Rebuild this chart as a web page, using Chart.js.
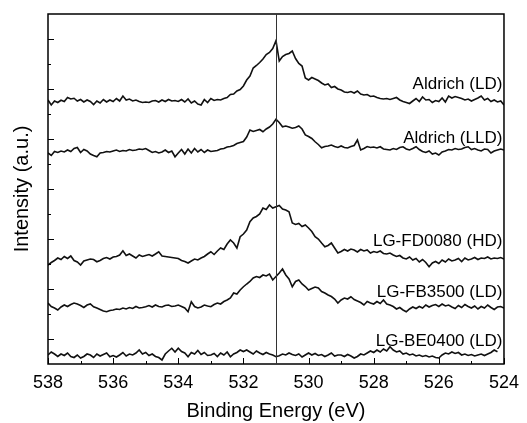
<!DOCTYPE html>
<html>
<head>
<meta charset="utf-8">
<script src="https://cdn.jsdelivr.net/npm/chart.js@4.4.1/dist/chart.umd.min.js"></script>
<style>
  html, body { margin: 0; padding: 0; background: #fff; }
  #wrap { width: 527px; height: 423px; }
</style>
</head>
<body>
<div id="wrap"><canvas id="xpsChart"></canvas></div>
<script>
// Binding energy grid (eV), 538 -> 524
const energies = [
  538.0,537.9,537.8,537.7,537.6,537.5,537.4,537.3,537.2,537.1,
  537.0,536.9,536.8,536.7,536.6,536.5,536.4,536.3,536.2,536.1,
  536.0,535.9,535.8,535.7,535.6,535.5,535.4,535.3,535.2,535.1,
  535.0,534.9,534.8,534.7,534.6,534.5,534.4,534.3,534.2,534.1,
  534.0,533.9,533.8,533.7,533.6,533.5,533.4,533.3,533.2,533.1,
  533.0,532.9,532.8,532.7,532.6,532.5,532.4,532.3,532.2,532.1,
  532.0,531.9,531.8,531.7,531.6,531.5,531.4,531.3,531.2,531.1,
  531.0,530.9,530.8,530.7,530.6,530.5,530.4,530.3,530.2,530.1,
  530.0,529.9,529.8,529.7,529.6,529.5,529.4,529.3,529.2,529.1,
  529.0,528.9,528.8,528.7,528.6,528.5,528.4,528.3,528.2,528.1,
  528.0,527.9,527.8,527.7,527.6,527.5,527.4,527.3,527.2,527.1,
  527.0,526.9,526.8,526.7,526.6,526.5,526.4,526.3,526.2,526.1,
  526.0,525.9,525.8,525.7,525.6,525.5,525.4,525.3,525.2,525.1,
  525.0,524.9,524.8,524.7,524.6,524.5,524.4,524.3,524.2,524.1,
  524.0
];

// Intensities (offset, a.u.)
const aldrichLD = [
  10.56,10.36,10.52,10.46,10.55,10.50,10.66,10.60,10.63,10.52,
  10.58,10.48,10.56,10.50,10.38,10.52,10.44,10.58,10.48,10.56,
  10.50,10.62,10.52,10.72,10.56,10.60,10.52,10.56,10.50,10.46,
  10.48,10.46,10.52,10.54,10.48,10.56,10.50,10.58,10.52,10.54,
  10.50,10.58,10.48,10.60,10.44,10.52,10.40,10.36,10.58,10.46,
  10.62,10.54,10.58,10.56,10.62,10.66,10.78,10.80,10.92,10.98,
  11.12,11.36,11.52,11.84,11.94,12.06,12.20,12.38,12.46,12.62,
  12.93,12.12,12.30,12.38,12.42,12.52,12.22,12.02,11.92,11.44,
  11.36,11.46,11.40,11.34,11.24,11.16,11.20,11.06,11.10,11.00,
  10.96,10.88,10.86,10.90,10.84,10.92,10.80,10.76,10.78,10.70,
  10.72,10.66,10.62,10.60,10.62,10.58,10.62,10.66,10.56,10.50,
  10.46,10.42,10.52,10.62,10.50,10.68,10.56,10.58,10.46,10.54,
  10.50,10.64,10.48,10.72,10.64,10.70,10.66,10.62,10.56,10.60,
  10.52,10.58,10.64,10.72,10.56,10.62,10.50,10.56,10.48,10.52,
  10.36
];
const aldrichLLD = [
  8.44,8.34,8.50,8.46,8.52,8.48,8.56,8.50,8.62,8.66,
  8.46,8.58,8.52,8.40,8.34,8.29,8.44,8.46,8.50,8.48,
  8.52,8.56,8.50,8.54,8.52,8.58,8.54,8.56,8.60,8.58,
  8.62,8.54,8.46,8.50,8.44,8.48,8.56,8.46,8.52,8.29,
  8.44,8.58,8.40,8.60,8.44,8.62,8.48,8.58,8.46,8.56,
  8.50,8.52,8.54,8.60,8.62,8.68,8.70,8.74,8.82,8.86,
  8.90,9.08,9.36,9.30,9.34,9.38,9.29,9.40,9.48,9.60,
  9.79,9.66,9.49,9.52,9.48,9.43,9.46,9.52,9.40,9.16,
  9.10,9.02,8.89,8.78,8.65,8.70,8.72,8.76,8.70,8.66,
  8.72,8.66,8.64,8.70,8.74,8.96,8.56,8.62,8.70,8.66,
  8.68,8.64,8.69,8.60,8.58,8.56,8.62,8.58,8.66,8.69,
  8.60,8.56,8.62,8.69,8.58,8.50,8.46,8.52,8.40,8.44,
  8.36,8.48,8.52,8.58,8.56,8.62,8.58,8.60,8.66,8.69,
  8.58,8.62,8.56,8.52,8.60,8.58,8.44,8.52,8.56,8.60,
  8.56
];
const fd0080HD = [
  3.96,4.06,4.14,4.24,4.18,4.30,4.22,4.32,4.14,4.08,
  3.96,4.12,4.16,4.20,4.18,4.09,4.14,4.22,4.26,4.20,
  4.28,4.30,4.36,4.53,4.34,4.40,4.32,4.24,4.36,4.30,
  4.34,4.38,4.32,4.40,4.49,4.32,4.30,4.28,4.26,4.24,
  4.22,4.14,4.10,4.04,4.12,4.20,4.16,4.24,4.30,4.40,
  4.49,4.38,4.52,4.64,4.58,4.80,4.96,4.84,4.64,5.09,
  5.20,5.36,5.69,5.84,5.90,6.00,6.24,6.18,6.36,6.24,
  6.29,6.34,6.20,6.16,6.09,5.64,5.58,5.62,5.50,5.56,
  5.44,5.30,5.09,5.00,4.84,4.69,4.74,4.84,4.64,4.44,
  4.50,4.58,4.52,4.60,4.56,4.48,4.58,4.52,4.56,4.44,
  4.50,4.46,4.52,4.42,4.40,4.44,4.36,4.30,4.34,4.24,
  4.20,4.28,4.16,4.22,4.08,4.18,4.06,3.89,4.04,4.10,
  4.02,4.16,4.08,4.20,4.12,4.16,4.22,4.10,4.24,4.16,
  4.20,4.26,4.18,4.24,4.22,4.28,4.20,4.24,4.22,4.26,
  4.20
];
const fb3500LD = [
  2.44,2.30,2.24,2.16,2.28,2.36,2.30,2.38,2.44,2.40,
  2.34,2.26,2.36,2.40,2.29,2.24,2.18,2.12,2.09,2.14,
  2.16,2.20,2.18,2.24,2.20,2.26,2.22,2.30,2.24,2.26,
  2.29,2.34,2.28,2.36,2.30,2.28,2.34,2.36,2.30,2.32,
  2.36,2.30,2.24,2.09,2.49,2.30,2.24,2.28,2.36,2.32,
  2.29,2.38,2.44,2.40,2.50,2.56,2.64,2.84,2.80,2.96,
  3.09,3.20,3.30,3.44,3.50,3.46,3.56,3.52,3.60,3.36,
  3.50,3.64,3.80,3.56,3.40,3.09,3.30,3.36,3.20,3.10,
  2.96,3.02,3.08,3.04,2.90,2.84,2.76,2.70,2.60,2.44,
  2.56,2.64,2.60,2.69,2.58,2.52,2.46,2.36,2.50,2.44,
  2.40,2.50,2.42,2.56,2.40,2.36,2.30,2.20,2.26,2.16,
  2.09,2.20,2.28,2.22,2.30,2.24,2.36,2.28,2.34,2.38,
  2.30,2.40,2.32,2.36,2.28,2.22,2.34,2.26,2.38,2.30,
  2.24,2.32,2.20,2.30,2.24,2.36,2.26,2.18,2.28,2.30,
  2.24
];
const be0400LD = [
  0.36,0.48,0.40,0.30,0.40,0.34,0.44,0.30,0.26,0.36,
  0.24,0.30,0.40,0.36,0.26,0.40,0.32,0.38,0.44,0.29,
  0.34,0.28,0.36,0.46,0.32,0.40,0.36,0.44,0.56,0.40,
  0.46,0.34,0.40,0.30,0.26,0.16,0.40,0.52,0.63,0.48,
  0.63,0.50,0.44,0.29,0.46,0.40,0.54,0.38,0.46,0.34,
  0.36,0.42,0.30,0.44,0.36,0.48,0.29,0.40,0.46,0.56,
  0.50,0.56,0.48,0.40,0.52,0.44,0.38,0.46,0.40,0.36,
  0.29,0.33,0.40,0.36,0.44,0.38,0.34,0.40,0.28,0.36,
  0.44,0.36,0.42,0.34,0.38,0.30,0.36,0.44,0.32,0.36,
  0.36,0.30,0.38,0.32,0.24,0.30,0.40,0.36,0.44,0.52,
  0.46,0.56,0.48,0.60,0.52,0.69,0.56,0.48,0.52,0.40,
  0.44,0.36,0.40,0.32,0.36,0.30,0.34,0.28,0.32,0.26,
  0.24,0.36,0.44,0.40,0.48,0.42,0.46,0.36,0.40,0.34,
  0.38,0.32,0.36,0.40,0.34,0.40,0.46,0.56,0.49,null,
  null
];

const sampleNames = ['Aldrich (LD)', 'Aldrich (LLD)', 'LG-FD0080 (HD)', 'LG-FB3500 (LD)', 'LG-BE0400 (LD)'];
const sampleSeries = [aldrichLD, aldrichLLD, fd0080HD, fb3500LD, be0400LD];
const xTickStep = 2;
const markerEnergy = 531;

// layout-only: where each sample name sits (x in eV, y baseline in a.u.)
const nameAnchorX = 524.05;
const nameAnchorY = [10.99, 8.85, 4.72, 2.69, 0.72];

const FONT = "'Liberation Sans', Arial, Helvetica, sans-serif";
Chart.defaults.font.family = FONT;
Chart.defaults.color = '#000';

// frame, inward ticks, reference line and sample names
const decorations = {
    id: 'decorations',
    afterDatasetsDraw(chart) {
        const { ctx, chartArea: a, scales: { x, y } } = chart;
        ctx.save();
        ctx.strokeStyle = '#000';
        ctx.lineWidth = 1.5;
        ctx.strokeRect(a.left, a.top, a.right - a.left, a.bottom - a.top);

        ctx.lineWidth = 1;
        ctx.beginPath();
        for (let v = x.min; v <= x.max; v++) {
            const px = Math.round(x.getPixelForValue(v)) + 0.5;
            const len = v % 2 === 0 ? 6 : 3;
            ctx.moveTo(px, a.bottom);
            ctx.lineTo(px, a.bottom - len);
        }
        for (let v = y.min + 1; v < y.max; v++) {
            const py = Math.round(y.getPixelForValue(v)) + 0.5;
            const len = v % 2 === 1 ? 6 : 3;
            ctx.moveTo(a.left, py);
            ctx.lineTo(a.left + len, py);
        }
        ctx.stroke();

        // reference line
        const mx = Math.round(x.getPixelForValue(markerEnergy)) + 0.5;
        ctx.strokeStyle = '#333';
        ctx.lineWidth = 1;
        ctx.beginPath();
        ctx.moveTo(mx, a.top);
        ctx.lineTo(mx, a.bottom);
        ctx.stroke();

        // sample names
        ctx.fillStyle = '#000';
        ctx.font = '17px ' + FONT;
        ctx.textAlign = 'right';
        ctx.textBaseline = 'alphabetic';
        sampleNames.forEach((name, i) => {
            ctx.fillText(name, x.getPixelForValue(nameAnchorX), y.getPixelForValue(nameAnchorY[i]));
        });
        ctx.restore();
    }
};

new Chart(document.getElementById('xpsChart').getContext('2d'), {
    type: 'line',
    data: {
        datasets: sampleSeries.map((vals, i) => ({
            label: sampleNames[i],
            data: energies.map((e, k) => ({ x: e, y: vals[k] })),
            borderColor: '#111',
            borderWidth: 1.6,
            pointRadius: 0,
            tension: 0,
            fill: false
        }))
    },
    options: {
        responsive: true,
        maintainAspectRatio: false,
        animation: false,
        events: [],
        layout: { padding: { top: 14, right: 17, left: 0, bottom: 0 } },
        plugins: { legend: { display: false }, tooltip: { enabled: false } },
        scales: {
            x: {
                type: 'linear',
                reverse: true,
                min: 524,
                max: 538,
                grid: { display: false, drawTicks: false },
                border: { display: false },
                ticks: { stepSize: xTickStep, font: { size: 18 }, color: '#000', padding: 8, maxRotation: 0 },
                title: { display: true, text: 'Binding Energy (eV)', font: { size: 20 }, color: '#000', padding: { top: 0, bottom: 0 } },
                afterFit(s) { s.height = 59; }
            },
            y: {
                min: 0,
                max: 14,
                grid: { display: false, drawTicks: false },
                border: { display: false },
                ticks: { display: false, stepSize: 1 },
                title: { display: true, text: 'Intensity (a.u.)', font: { size: 20 }, color: '#000', padding: { top: 10, bottom: 0 } },
                afterFit(s) { s.width = 48; }
            }
        }
    },
    plugins: [decorations]
});
</script>
</body>
</html>
